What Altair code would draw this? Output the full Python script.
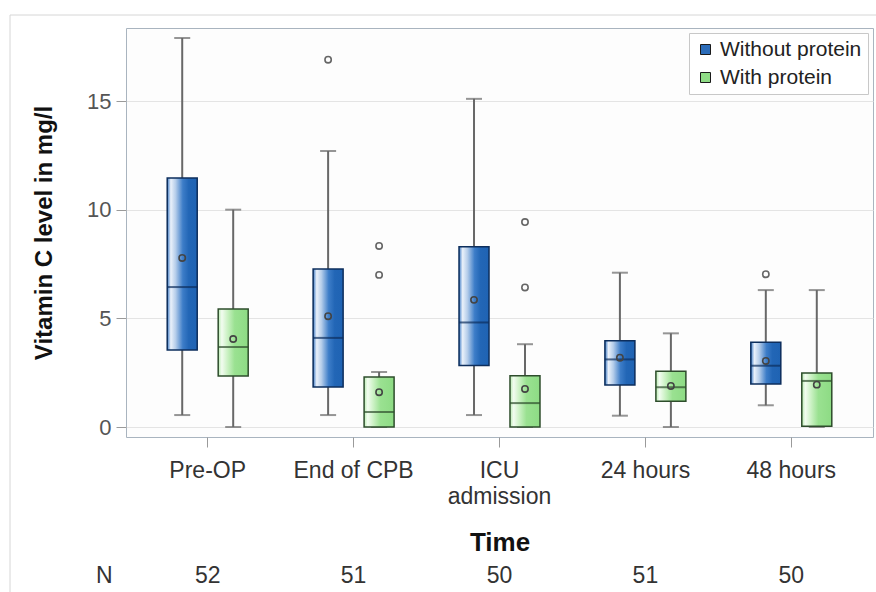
import altair as alt
import pandas as pd

# ---------------- data ----------------
times = ["Pre-OP", "End of CPB", "ICU admission", "24 hours", "48 hours"]
groups = ["Without protein", "With protein"]
n_counts = [52, 51, 50, 51, 50]

wo_lo = [0.55, 0.55, 0.55, 0.52, 1.0]
wo_q1 = [3.54, 1.84, 2.83, 1.93, 1.98]
wo_med = [6.44, 4.10, 4.81, 3.11, 2.82]
wo_q3 = [11.46, 7.27, 8.29, 3.97, 3.90]
wo_hi = [17.9, 12.7, 15.1, 7.1, 6.3]
wo_mean = [7.78, 5.10, 5.85, 3.19, 3.04]

wp_lo = [0.0, 0.0, 0.0, 0.0, 0.0]
wp_q1 = [2.35, 0.0, 0.0, 1.18, 0.03]
wp_med = [3.68, 0.69, 1.10, 1.83, 2.12]
wp_q3 = [5.43, 2.30, 2.36, 2.56, 2.49]
wp_hi = [10.0, 2.53, 3.81, 4.31, 6.3]
wp_mean = [4.05, 1.60, 1.75, 1.89, 1.95]

out_time = ["End of CPB", "48 hours", "End of CPB", "End of CPB", "ICU admission", "ICU admission"]
out_group = ["Without protein", "Without protein", "With protein", "With protein", "With protein", "With protein"]
out_value = [16.9, 7.03, 8.33, 7.0, 9.43, 6.42]

rows = []
for i, t in enumerate(times):
    rows.append(dict(time=t, group=groups[0], lo=wo_lo[i], q1=wo_q1[i], med=wo_med[i],
                     q3=wo_q3[i], hi=wo_hi[i], mean=wo_mean[i]))
    rows.append(dict(time=t, group=groups[1], lo=wp_lo[i], q1=wp_q1[i], med=wp_med[i],
                     q3=wp_q3[i], hi=wp_hi[i], mean=wp_mean[i]))
df = pd.DataFrame(rows)
df_out = pd.DataFrame(dict(time=out_time, group=out_group, value=out_value))
df_frame = pd.DataFrame(dict(k=[0]))

FONT = "Liberation Sans"

# ---------------- scales / axes ----------------
xscale = alt.Scale(paddingInner=0, paddingOuter=0.06)
yscale = alt.Scale(domain=[-0.46, 18.36], nice=False, zero=False)
yaxis = alt.Axis(values=[0, 5, 10, 15], title="Vitamin C level in mg/l", grid=True,
                 gridColor="#e4e4e4", domain=False, tickColor="#9a9a9a", tickSize=10,
                 labelFontSize=22, labelColor="#555555", labelPadding=5,
                 titleFontSize=24, titleFontWeight="bold", titleColor="#111111",
                 titlePadding=30)

label_expr = "datum.value == 'ICU admission' ? ['ICU', 'admission'] : datum.value"
main_xaxis = alt.Axis(title="Time", labelAngle=0, tickSize=10, tickColor="#9a9a9a",
                      domain=False, grid=False, labelFontSize=23, labelColor="#333333",
                      labelPadding=12, labelExpr=label_expr, labelLineHeight=26,
                      titleFontSize=26, titleFontWeight="bold", titleColor="#111111",
                      titlePadding=21)

n_expr = " : ".join(f"datum.value == '{t}' ? '{n}'" for t, n in zip(times, n_counts)) + " : ''"
n_axis = alt.Axis(orient="bottom", offset=117, ticks=False, tickSize=0, domain=False,
                  grid=False, labelAngle=0, labelFontSize=23, labelColor="#333333",
                  labelPadding=10, labelExpr=n_expr, title="N", titleAngle=0,
                  titleAlign="right", titleBaseline="top", titleX=-14, titleY=10,
                  titleFontSize=23, titleFontWeight="normal", titleColor="#333333")


def X(axis=None):
    return alt.X("time:N", sort=times, scale=xscale, axis=axis)


XO = alt.XOffset("group:N", sort=groups, scale=alt.Scale(paddingOuter=0.431, paddingInner=0))


def Y(field):
    return alt.Y(f"{field}:Q", scale=yscale, axis=yaxis)


base = alt.Chart(df)

frame = alt.Chart(df_frame).mark_rect(fillOpacity=0, stroke="#d6d6d6", strokeWidth=1).encode(
    x=alt.value(-116), x2=alt.value(770), y=alt.value(-13), y2=alt.value(600))

whisk = base.mark_rule(color="#686868", strokeWidth=2).encode(
    x=X(), xOffset=XO, y=Y("lo"), y2="hi")
cap_lo = base.mark_tick(color="#686868", size=16, thickness=2).encode(
    x=X(), xOffset=XO, y=Y("lo"))
cap_hi = base.mark_tick(color="#686868", size=16, thickness=2).encode(
    x=X(), xOffset=XO, y=Y("hi"))

legend_bar = base.mark_bar(size=30).encode(
    x=X(main_xaxis), xOffset=XO, y=Y("q1"), y2="q3",
    color=alt.Color("group:N", sort=groups,
                    scale=alt.Scale(domain=groups, range=["#2b6cb9", "#8fdc86"]),
                    legend=alt.Legend(orient="top-right", offset=5, title=None,
                                      symbolType="square", symbolSize=100,
                                      symbolStrokeColor="#1a1a1a", symbolStrokeWidth=1,
                                      labelFontSize=21, labelColor="#222222",
                                      strokeColor="#c8c8c8", fillColor="white",
                                      padding=6, rowPadding=6, labelFont=FONT)))

blue_grad = alt.LinearGradient(
    gradient="linear", x1=0, x2=1, y1=0, y2=0,
    stops=[alt.GradientStop(color="#3a78c4", offset=0),
           alt.GradientStop(color="#eaf1fa", offset=0.12),
           alt.GradientStop(color="#b5cdea", offset=0.28),
           alt.GradientStop(color="#3d7dc8", offset=0.52),
           alt.GradientStop(color="#2266b6", offset=0.72),
           alt.GradientStop(color="#1f63b3", offset=1)])
green_grad = alt.LinearGradient(
    gradient="linear", x1=0, x2=1, y1=0, y2=0,
    stops=[alt.GradientStop(color="#b8ecb0", offset=0),
           alt.GradientStop(color="#f2fcf0", offset=0.12),
           alt.GradientStop(color="#cdf2c6", offset=0.3),
           alt.GradientStop(color="#9ae191", offset=0.55),
           alt.GradientStop(color="#8ddb84", offset=1)])

box_layers = []
for g, grad, dark in [(groups[0], blue_grad, "#0d2e5c"), (groups[1], green_grad, "#2e4d2c")]:
    sub = base.transform_filter(alt.datum.group == g)
    box_layers.append(sub.mark_bar(size=30, color=grad, stroke=dark, strokeWidth=1.5).encode(
        x=X(), xOffset=XO, y=Y("q1"), y2="q3"))
    box_layers.append(sub.mark_tick(color=dark, size=30, thickness=2).encode(
        x=X(), xOffset=XO, y=Y("med")))

means = base.mark_point(shape="circle", filled=False, size=40, color="#444444",
                        strokeWidth=1.6, opacity=1).encode(
    x=X(n_axis), xOffset=XO, y=Y("mean"))

outs = alt.Chart(df_out).mark_point(shape="circle", filled=False, size=40, color="#666666",
                                    strokeWidth=1.6, opacity=1).encode(
    x=X(), xOffset=XO, y=Y("value"))

chart = alt.layer(frame, whisk, cap_lo, cap_hi, legend_bar, *box_layers, means, outs).resolve_axis(
    x="independent"
).properties(
    width=747, height=409,
    padding={"left": 126, "top": 28, "right": 3, "bottom": 155},
    autosize=alt.AutoSizeParams(type="none"),
    background="white",
).configure(font=FONT).configure_view(stroke="#a9b4bf", strokeWidth=1, fill="#fdfdfd")

chart.save("out.html", embed_options={"renderer": "svg", "actions": False})
